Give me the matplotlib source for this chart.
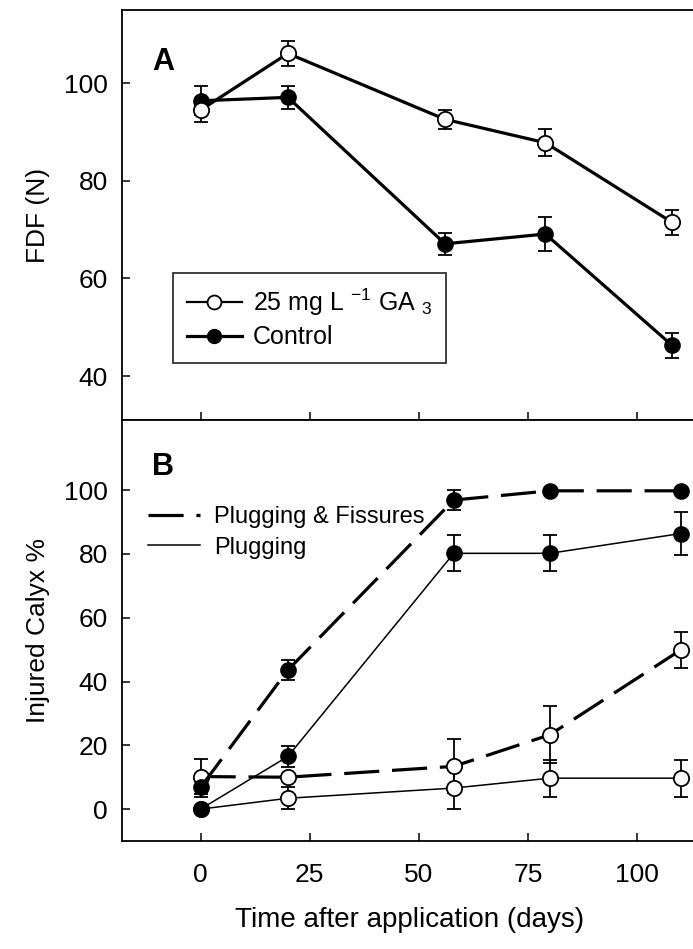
import matplotlib
matplotlib.use("Agg")
import matplotlib.pyplot as plt
from matplotlib.lines import Line2D

plt.rcParams['font.family'] = ['Liberation Sans', 'DejaVu Sans']
plt.rcParams['mathtext.fontset'] = 'custom'
plt.rcParams['mathtext.rm'] = 'Liberation Sans'

# Panel A: fruit detachment force
days_a = [0, 20, 56, 79, 108]
fdf_ga = [94.5, 106.1, 92.6, 87.8, 71.5]
fdf_ga_err = [2.5, 2.6, 2.0, 2.8, 2.5]
fdf_ctrl = [96.4, 97.1, 67.1, 69.1, 46.3]
fdf_ctrl_err = [3.0, 2.4, 2.2, 3.4, 2.6]

# Panel B: injured calyx %
days_b = [0, 20, 58, 80, 110]
pf_ctrl = [6.8, 43.6, 96.9, 99.8, 99.8]
pf_ctrl_err = [3.0, 3.2, 3.0, 0, 0]
plug_ctrl = [0, 16.5, 80.2, 80.2, 86.4]
plug_ctrl_err = [0, 3.2, 5.7, 5.7, 6.6]
pf_ga = [10.2, 10.0, 13.4, 23.3, 49.9]
pf_ga_err = [5.5, 1.0, 8.5, 8.9, 5.7]
plug_ga = [0, 3.4, 6.6, 9.7, 9.7]
plug_ga_err = [0, 3.4, 6.7, 5.8, 5.8]

W, H = 693, 949
fig = plt.figure(figsize=(W / 100, H / 100), dpi=100)
left, right = 122 / W, 1.005
axA = fig.add_axes([left, 1 - 420 / H, right - left, 410 / H])
axB = fig.add_axes([left, 1 - 841 / H, right - left, 421 / H])

ms = 11
open_kw = dict(marker='o', mfc='white', mec='black', mew=1.3, ms=ms, color='black',
               ecolor='black', elinewidth=1.3, capsize=5, capthick=1.3)
fill_kw = dict(marker='o', mfc='black', mec='black', ms=ms, color='black',
               ecolor='black', elinewidth=1.3, capsize=5, capthick=1.3)
fs = 19

# panel A
axA.errorbar(days_a, fdf_ctrl, yerr=fdf_ctrl_err, lw=2.3, **fill_kw)
axA.errorbar(days_a, fdf_ga, yerr=fdf_ga_err, lw=2.3, **open_kw)
axA.set_ylim(31, 115)
axA.set_yticks([40, 60, 80, 100])
axA.set_ylabel('FDF (N)', fontsize=fs, labelpad=10)
axA.text(0.053, 0.854, 'A', transform=axA.transAxes, fontsize=22,
         fontweight='bold', va='baseline')
hA = [Line2D([], [], color='black', lw=1.6, marker='o', mfc='white', mec='black',
             mew=1.3, ms=ms - 1),
      Line2D([], [], color='black', lw=2.3, marker='o', mfc='black', mec='black',
             ms=ms - 1)]
legA = axA.legend(hA, ['25 mg L $^{-1}$ GA $_3$', 'Control'], loc='lower left',
                  bbox_to_anchor=(0.089, 0.139), fontsize=18, frameon=True,
                  fancybox=False, edgecolor='black', handlelength=2.2,
                  handletextpad=0.45, borderpad=0.55, labelspacing=0.3,
                  borderaxespad=0)
legA.get_frame().set_linewidth(1.3)

# panel B
dash = (0, (11, 4))
axB.errorbar(days_b, plug_ga, yerr=plug_ga_err, lw=1.1, **open_kw)
axB.errorbar(days_b, pf_ga, yerr=pf_ga_err, lw=2.3, ls=dash, **open_kw)
axB.errorbar(days_b, plug_ctrl, yerr=plug_ctrl_err, lw=1.1, **fill_kw)
axB.errorbar(days_b, pf_ctrl, yerr=pf_ctrl_err, lw=2.3, ls=dash, **fill_kw)
hB = [Line2D([], [], color='black', lw=2.3, ls=dash),
      Line2D([], [], color='black', lw=1.1)]
axB.legend(hB, ['Plugging & Fissures', 'Plugging'], loc='upper left',
           bbox_to_anchor=(0.045, 0.795), fontsize=17, frameon=False,
           handlelength=2.2, handletextpad=0.6, labelspacing=0.35, borderaxespad=0,
           borderpad=0)
axB.set_ylim(-10, 122)
axB.set_yticks([0, 20, 40, 60, 80, 100])
axB.set_ylabel('Injured Calyx %', fontsize=fs, labelpad=10)
axB.text(0.052, 0.869, 'B', transform=axB.transAxes, fontsize=22,
         fontweight='bold', va='baseline')
axB.set_xlabel('Time after application (days)', fontsize=20, labelpad=14)

for ax in (axA, axB):
    ax.set_xlim(-18, 113.6)
    ax.set_xticks([0, 25, 50, 75, 100])
    ax.tick_params(direction='in', length=6, width=1.1, labelsize=fs,
                   top=False, right=False)
    ax.tick_params(axis='y', pad=10)
    ax.tick_params(axis='x', pad=16)
    for s in ax.spines.values():
        s.set_linewidth(1.3)
axA.tick_params(labelbottom=False)

fig.savefig('out.png', dpi=100)
